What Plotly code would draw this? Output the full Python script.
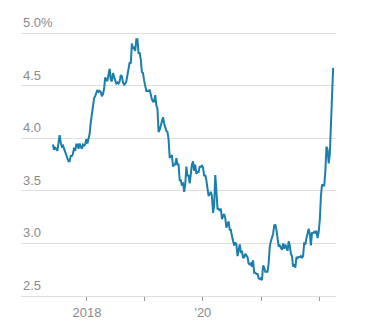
import plotly.graph_objects as go
import pandas as pd

start_date = "2017-06-01"
end_date = "2022-03-31"

rates = [
    # 2017 (Jun-Dec)
    3.94, 3.89, 3.91, 3.90, 3.88, 3.96, 4.03, 3.96, 3.92, 3.93, 3.90, 3.89, 3.86, 3.82,
    3.78, 3.78, 3.83, 3.83, 3.85, 3.91, 3.88, 3.94, 3.94, 3.90, 3.95, 3.92, 3.90, 3.94,
    3.93, 3.94, 3.99,
    # 2018
    3.95, 3.99, 4.04, 4.15, 4.22, 4.32, 4.38, 4.40, 4.43, 4.46, 4.44, 4.45, 4.44, 4.40,
    4.42, 4.47, 4.58, 4.55, 4.55, 4.61, 4.66, 4.56, 4.54, 4.62, 4.57, 4.55, 4.52, 4.53,
    4.52, 4.54, 4.60, 4.59, 4.53, 4.51, 4.52, 4.54, 4.60, 4.65, 4.72, 4.71, 4.90, 4.85,
    4.86, 4.83, 4.94, 4.94, 4.81, 4.81, 4.75, 4.63, 4.62, 4.55,
    # 2019
    4.51, 4.45, 4.45, 4.45, 4.46, 4.41, 4.37, 4.35, 4.35, 4.41, 4.31, 4.28, 4.06, 4.08,
    4.12, 4.17, 4.20, 4.14, 4.10, 4.07, 4.06, 3.99, 3.82, 3.82, 3.84, 3.73, 3.75, 3.75,
    3.81, 3.75, 3.75, 3.60, 3.60, 3.55, 3.58, 3.49, 3.56, 3.73, 3.64, 3.65, 3.57, 3.69,
    3.75, 3.78, 3.69, 3.75, 3.66, 3.68, 3.68, 3.73, 3.73, 3.74,
    # 2020
    3.72, 3.64, 3.65, 3.60, 3.51, 3.45, 3.47, 3.49, 3.45, 3.29, 3.36, 3.65, 3.50, 3.33,
    3.33, 3.31, 3.33, 3.23, 3.26, 3.28, 3.24, 3.15, 3.18, 3.21, 3.13, 3.13, 3.07, 3.03,
    2.98, 3.01, 2.99, 2.88, 2.96, 2.99, 2.91, 2.93, 2.86, 2.87, 2.90, 2.88, 2.87, 2.81,
    2.80, 2.81, 2.78, 2.84, 2.72, 2.72, 2.71, 2.71, 2.67, 2.66, 2.67,
    # 2021
    2.65, 2.79, 2.77, 2.73, 2.73, 2.73, 2.81, 2.97, 3.02, 3.05, 3.09, 3.17, 3.18, 3.13,
    3.04, 2.97, 2.98, 2.96, 2.94, 3.00, 2.95, 2.99, 2.96, 2.93, 3.02, 2.98, 2.90, 2.88,
    2.78, 2.80, 2.77, 2.87, 2.86, 2.87, 2.87, 2.88, 2.86, 2.88, 3.01, 2.99, 3.05, 3.09,
    3.14, 3.09, 2.98, 3.10, 3.10, 3.11, 3.10, 3.12, 3.05, 3.11,
    # 2022 (Jan-Mar)
    3.22, 3.45, 3.56, 3.55, 3.55, 3.69, 3.92, 3.89, 3.76, 3.85, 4.16, 4.42, 4.67,
]

dates = pd.date_range(end=end_date, periods=len(rates), freq="7D")

y_ticks = [2.5, 3.0, 3.5, 4.0, 4.5, 5.0]
y_labels = ["2.5", "3.0", "3.5", "4.0", "4.5", "5.0%"]
x_ticks = ["2018-01-01", "2019-01-01", "2020-01-01", "2021-01-01", "2022-01-01"]
x_labels = ["2018", "", "'20", "", ""]

LINE = "#1a7fab"
GRID = "#dedede"
TEXT = "#8a8a8a"
FONT = "Liberation Sans"

fig = go.Figure()
fig.add_trace(go.Scatter(
    x=dates, y=rates, mode="lines",
    line=dict(color=LINE, width=2),
    hoverinfo="skip", showlegend=False,
))

for v, lab in zip(y_ticks, y_labels):
    fig.add_annotation(
        x=0, xref="paper", y=v, yref="y", text=lab, showarrow=False,
        xanchor="left", yanchor="bottom", yshift=1,
        font=dict(family=FONT, size=13, color=TEXT),
    )

fig.update_layout(
    width=369, height=334,
    margin=dict(l=21, r=33, t=32, b=38),
    paper_bgcolor="white", plot_bgcolor="white",
    font=dict(family=FONT, size=13, color=TEXT),
    xaxis=dict(
        range=["2016-11-12", "2022-04-18"],
        tickvals=x_ticks, ticktext=x_labels,
        ticks="outside", ticklen=4, tickcolor="#999999", tickwidth=1,
        showgrid=False, zeroline=False,
        showline=True, linecolor=GRID, linewidth=1,
        tickfont=dict(family=FONT, size=13, color=TEXT),
    ),
    yaxis=dict(
        range=[2.5, 5.01],
        tickvals=y_ticks, showticklabels=False,
        showgrid=True, gridcolor=GRID, gridwidth=1,
        zeroline=False, showline=False,
    ),
)

fig.write_html("out.html")
